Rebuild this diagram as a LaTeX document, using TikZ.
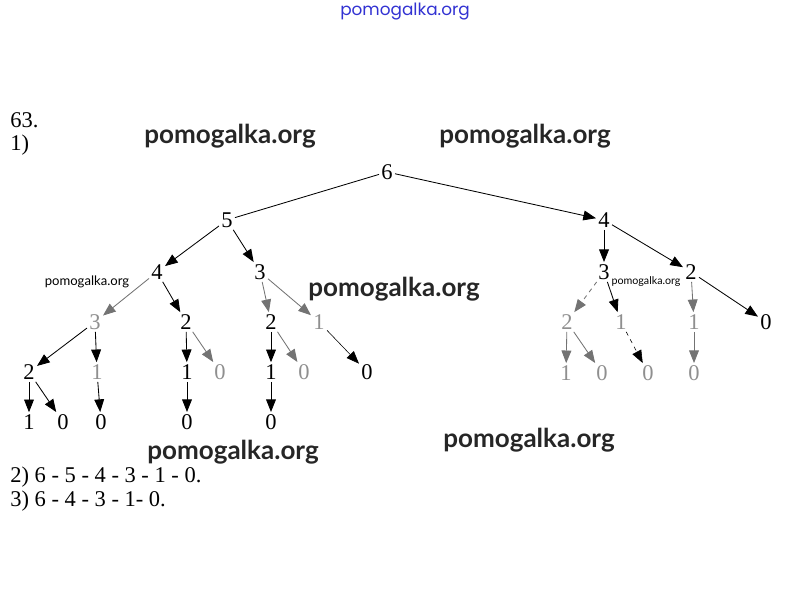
\documentclass[tikz,border=0pt]{standalone}
\usepackage{fontspec}
\setmainfont{Liberation Serif}
\newfontfamily\markfont{Lato}
\newfontfamily\topfont{Poppins}
\usetikzlibrary{arrows.meta}
\definecolor{fade}{gray}{0.45}
\definecolor{siteblue}{RGB}{50,50,210}
\tikzset{
  num/.style={font=\fontsize{16}{19}\selectfont, inner sep=1.5pt},
  dim/.style={num, text=fade!80},
  wmark/.style={font=\markfont\bfseries\fontsize{18.5}{22}\selectfont, text=black!85},
  smallwmark/.style={font=\markfont\fontsize{9.3}{11}\selectfont, inner sep=0pt},
  edge/.style={-{Triangle[length=9pt,width=7pt]}, line width=0.6pt}
}
\begin{document}
\begin{tikzpicture}[x=0.025cm,y=-0.025cm]
      \useasboundingbox (0,0) rectangle (808,615);
      \node[font=\topfont\fontsize{12}{14}\selectfont, text=siteblue] (site) at (405,12) {pomogalka.org};
      \node[num, anchor=west, inner sep=0pt] (task) at (10,120) {63.};
      \node[num, anchor=west, inner sep=0pt] (part1) at (10,145) {1)};
      \draw
        (387,172) node[num] (n6){6}
        (227,220) node[num] (n5){5}
        (157,272) node[num] (a4){4}
        (260,272) node[num] (a3){3}
        (604,220) node[num] (b4){4}
        (604,272) node[num] (b3){3}
        (691,272) node[num] (b2){2}
        (95,322) node[dim] (c3){3}
        (186,322) node[num] (c2){2}
        (271,322) node[num] (d2){2}
        (319,322) node[dim] (d1){1}
        (567,322) node[dim] (e2){2}
        (621,322) node[dim] (e1){1}
        (694,322) node[dim] (f1){1}
        (766,322) node[num] (f0){0}
        (29,372) node[num] (g2){2}
        (97,372) node[dim] (g1){1}
        (187,372) node[num] (h1){1}
        (220,372) node[dim] (h0){0}
        (271,372) node[num] (i1){1}
        (304,372) node[dim] (i0){0}
        (367,372) node[num] (j0){0}
        (566,373) node[dim] (k1){1}
        (602,373) node[dim] (k0){0}
        (648,373) node[dim] (l0){0}
        (694,373) node[dim] (m0){0}
        (29,422) node[num] (p1){1}
        (63,422) node[num] (p0){0}
        (101,422) node[num] (q0){0}
        (187,422) node[num] (r0){0}
        (271,422) node[num] (s0){0};
      \draw[line width=0.6pt] (n6) to (n5);
      \begin{scope}[edge]
        \draw (n6) to (b4);
        \draw (n5) to (a4);
        \draw (n5) to (a3);
        \draw[fade] (a4) to (c3);
        \draw (a4) to (c2);
        \draw[fade] (a3) to (d2);
        \draw[fade] (a3) to (d1);
        \draw (c3) to (g2);
        \draw (c3) to (g1);
        \draw (c2) to (h1);
        \draw[fade] (c2) to (h0);
        \draw (d2) to (i1);
        \draw[fade] (d2) to (i0);
        \draw[line width=0.4pt] (d1) to (j0);
        \draw (g2) to (p1);
        \draw (g2) to (p0);
        \draw (g1) to (q0);
        \draw (h1) to (r0);
        \draw (i1) to (s0);
        \draw (b4) to (b3);
        \draw (b4) to (b2);
        \draw[fade, dashed] (b3) to (e2);
        \draw (b3) to (e1);
        \draw[fade] (b2) to (f1);
        \draw (b2) to (f0);
        \draw[fade] (e2) to (k1);
        \draw[fade] (e2) to (k0);
        \draw[line width=0.4pt, dashed] (e1) to (l0);
        \draw[fade] (f1) to (m0);
      \end{scope}
      \node[num, anchor=west, inner sep=0pt] (part2) at (10,477) {2) 6 - 5 - 4 - 3 - 1 - 0.};
      \node[num, anchor=west, inner sep=0pt] (part3) at (10,501) {3) 6 - 4 - 3 - 1- 0.};
      \node[wmark] (w1) at (230,136) {pomogalka.org};
      \node[wmark] (w2) at (525,136) {pomogalka.org};
      \node[wmark] (w3) at (394,289) {pomogalka.org};
      \node[wmark] (w4) at (233,452) {pomogalka.org};
      \node[wmark] (w5) at (529,440) {pomogalka.org};
      \node[smallwmark] (w6) at (87,282) {pomogalka.org};
      \node[smallwmark, font=\markfont\fontsize{7.6}{9}\selectfont] (w7) at (646,282) {pomogalka.org};
    \end{tikzpicture}
\end{document}
